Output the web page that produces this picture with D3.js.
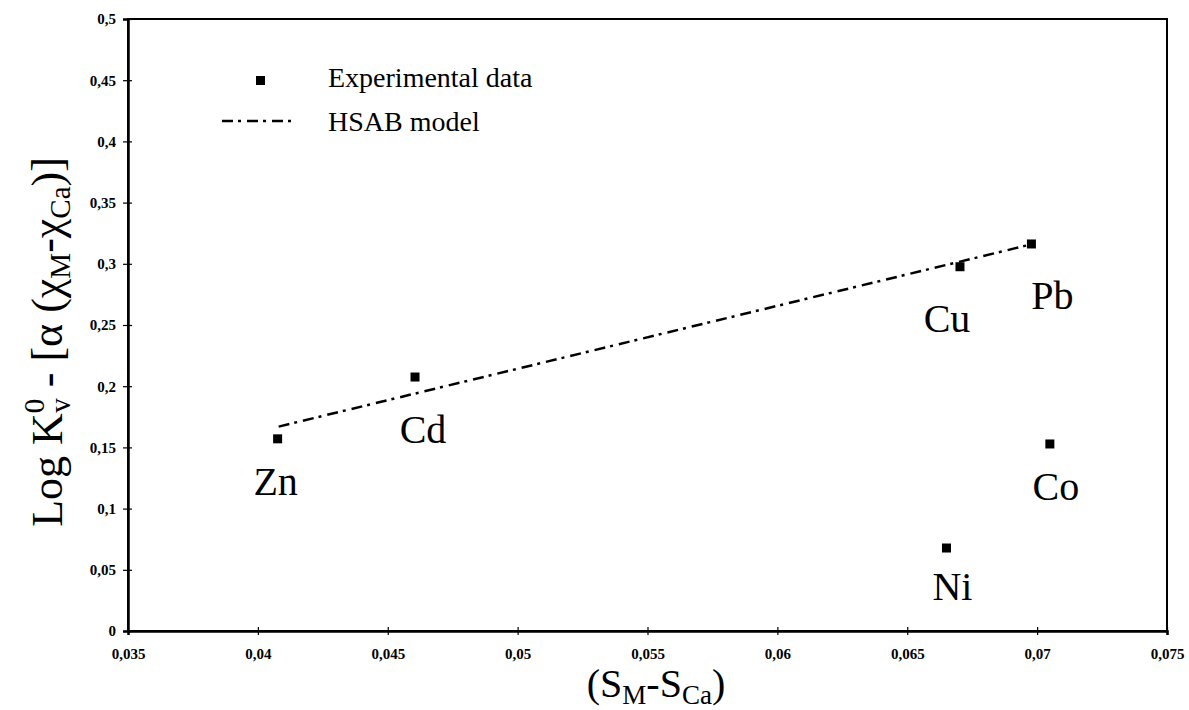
<!DOCTYPE html>
<html lang="en">
	<head>
		<meta charset="UTF-8">
		<title>HSAB model</title>
		<script src="https://cdn.jsdelivr.net/npm/d3@7"></script>
		<style>
			body { margin: 0; background: #fff; }
			text { font-family: "Liberation Serif", "Times New Roman", serif; fill: #000; }
		</style>
	</head>
	<body>
		<div id="chart"></div>
		<script>
			// values
			const metals = ["Zn", "Cd", "Cu", "Pb", "Co", "Ni"];
			const sDiff = [0.04076, 0.04605, 0.06703, 0.06978, 0.07049, 0.06651];
			const logK = [0.157, 0.2075, 0.2976, 0.3162, 0.1528, 0.0678];

			const modelX = [0.0408, 0.0697];
			const modelY = [0.167, 0.3155];

			const xTicks = [0.035, 0.04, 0.045, 0.05, 0.055, 0.06, 0.065, 0.07, 0.075];
			const yTicks = [0, 0.05, 0.1, 0.15, 0.2, 0.25, 0.3, 0.35, 0.4, 0.45, 0.5];

			// label placement relative to the marker (px)
			const labelOffsets = [[-2, 56], [8, 66], [-13, 65], [21, 65], [6, 56], [6, 52]];

			const w = 1189;
			const h = 710;
			const plotLeft = 128, plotTop = 19, plotRight = 1167, plotBottom = 631;

			const svg = d3.select("#chart")
						  .append("svg")
						  .attr("width", w)
						  .attr("height", h);

			const xScale = d3.scaleLinear()
							 .domain([0.035, 0.075])
							 .range([plotLeft, plotRight]);

			const yScale = d3.scaleLinear()
							 .domain([0, 0.5])
							 .range([plotBottom, plotTop]);

			const fmt = d => String(d).replace(".", ",");

			// frame
			svg.append("rect")
			   .attr("x", plotLeft)
			   .attr("y", plotTop)
			   .attr("width", plotRight - plotLeft)
			   .attr("height", plotBottom - plotTop)
			   .attr("fill", "none")
			   .attr("stroke", "#000")
			   .attr("stroke-width", 2);

			const xAxis = d3.axisBottom(xScale)
							.tickValues(xTicks)
							.tickFormat(fmt)
							.tickSizeOuter(0)
							.tickSize(4)
							.tickPadding(13);

			const gx = svg.append("g")
			   .attr("transform", `translate(0, ${plotBottom})`)
			   .call(xAxis);
			gx.select(".domain").attr("stroke-width", 2.5);
			gx.selectAll(".tick line").attr("y1", -4).attr("stroke-width", 1.2);

			const yAxis = d3.axisLeft(yScale)
							.tickValues(yTicks)
							.tickFormat(fmt)
							.tickSizeOuter(0)
							.tickSize(5)
							.tickPadding(7);

			const gy = svg.append("g")
			   .attr("transform", `translate(${plotLeft}, 0)`)
			   .call(yAxis);
			gy.select(".domain").attr("stroke-width", 2.5);
			gy.selectAll(".tick line").attr("x1", 4).attr("stroke-width", 1.2);

			svg.selectAll(".tick text")
			   .style("font-family", "'Liberation Serif', serif")
			   .style("font-size", "15px")
			   .style("font-weight", "bold");

			// model line
			const line = d3.line()
						   .x(d => xScale(d[0]))
						   .y(d => yScale(d[1]));

			svg.append("path")
			   .datum(d3.zip(modelX, modelY))
			   .attr("d", line)
			   .attr("fill", "none")
			   .attr("stroke", "#000")
			   .attr("stroke-width", 2.5)
			   .attr("stroke-dasharray", "11,5,3,6");

			// experimental points
			const pts = d3.zip(sDiff, logK, metals, labelOffsets);
			const size = 9;

			svg.selectAll("rect.pt")
			   .data(pts)
			   .enter()
			   .append("rect")
			   .attr("class", "pt")
			   .attr("x", d => xScale(d[0]) - size / 2)
			   .attr("y", d => yScale(d[1]) - size / 2)
			   .attr("width", size)
			   .attr("height", size)
			   .attr("fill", "#000");

			svg.selectAll("text.lbl")
			   .data(pts)
			   .enter()
			   .append("text")
			   .attr("class", "lbl")
			   .attr("x", d => xScale(d[0]) + d[3][0])
			   .attr("y", d => yScale(d[1]) + d[3][1])
			   .attr("text-anchor", "middle")
			   .attr("font-size", 40)
			   .text(d => d[2]);

			// legend
			svg.append("rect")
			   .attr("x", 256)
			   .attr("y", 76)
			   .attr("width", size)
			   .attr("height", size)
			   .attr("fill", "#000");
			svg.append("text")
			   .attr("x", 328)
			   .attr("y", 87)
			   .attr("font-size", 28)
			   .text("Experimental data");
			svg.append("line")
			   .attr("x1", 222)
			   .attr("x2", 291)
			   .attr("y1", 121)
			   .attr("y2", 121)
			   .attr("stroke", "#000")
			   .attr("stroke-width", 2.5)
			   .attr("stroke-dasharray", "11,5,3,6");
			svg.append("text")
			   .attr("x", 328)
			   .attr("y", 131)
			   .attr("font-size", 28)
			   .text("HSAB model");

			// x title
			const xt = svg.append("text")
						  .attr("x", 656)
						  .attr("y", 697)
						  .attr("text-anchor", "middle")
						  .attr("font-size", 40);
			xt.append("tspan").text("(S");
			xt.append("tspan").attr("font-size", 27).attr("dy", 7).text("M");
			xt.append("tspan").attr("dy", -7).text("-S");
			xt.append("tspan").attr("font-size", 27).attr("dy", 7).text("Ca");
			xt.append("tspan").attr("dy", -7).text(")");

			// y title
			const yt = svg.append("text")
						  .attr("transform", "translate(62, 342) rotate(-90)")
						  .attr("text-anchor", "middle")
						  .attr("font-size", 44);
			yt.append("tspan").text("Log K");
			yt.append("tspan").attr("font-size", 29).attr("dy", -18).text("0");
			yt.append("tspan").attr("font-size", 29).attr("dx", -14).attr("dy", 26).text("v");
			yt.append("tspan").attr("dy", -8).text(" - [α (χ");
			yt.append("tspan").attr("font-size", 29).attr("dy", 8).text("M");
			yt.append("tspan").attr("dy", -8).text("-χ");
			yt.append("tspan").attr("font-size", 29).attr("dy", 8).text("Ca");
			yt.append("tspan").attr("dy", -8).text(")]");
		</script>
	</body>
</html>
